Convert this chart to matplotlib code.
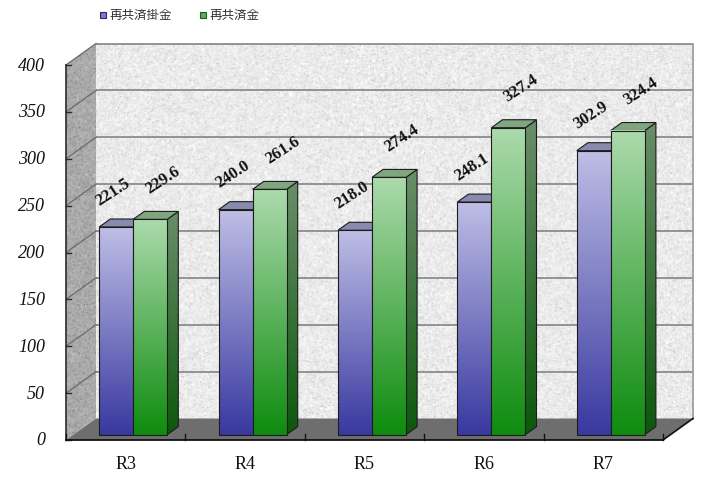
import numpy as np
import matplotlib
matplotlib.use('Agg')
import matplotlib.pyplot as plt
from matplotlib.patches import Polygon, Rectangle

# ---------------- data ----------------
categories = ['R3', 'R4', 'R5', 'R6', 'R7']
series_names = ['再共済掛金', '再共済金']
premiums = [221.5, 240.0, 218.0, 248.1, 302.9]
claims = [229.6, 261.6, 274.4, 327.4, 324.4]
yticks = [0, 50, 100, 150, 200, 250, 300, 350, 400]

# ---------------- figure / layout ----------------
W, H, DPI = 718, 502, 100
fig = plt.figure(figsize=(W / DPI, H / DPI), dpi=DPI)
ax = fig.add_axes([0, 0, 1, 1])
ax.axis('off')

FL, FR = 66, 663      # front plane left / right (px)
FB, FT = 441, 66      # front plane y of 0 / 400 (px from top)
n = len(categories)
ymax = yticks[-1]
sx = (FR - FL) / n
sy = (FB - FT) / ymax
x0 = -0.5 - FL / sx
y0 = -(H - FB) / sy
ax.set_xlim(x0, x0 + W / sx)
ax.set_ylim(y0, y0 + H / sy)

DX, DY = 30 / sx, 21.5 / sy   # full depth of the box in data units


def P(x, v, d):
    return (x + d * DX, v + d * DY)


rng = np.random.default_rng(7)


def granite(h, w, base, amp):
    a = rng.normal(0, 1, (h, w))
    b = (a + np.roll(a, 1, 0) + np.roll(a, 1, 1) + np.roll(a, -1, 0) + np.roll(a, -1, 1)) / 5
    t = base + amp * (0.8 * b + 0.2 * a)
    specks = rng.random((h, w)) < 0.04
    t = np.where(specks, t - 2.2 * amp, t)
    t = np.clip(t, 0, 1)
    return np.dstack([t, t, t])


xl, xr = -0.5, n - 0.5

# back wall
ax.imshow(granite(376, 596, 0.925, 0.05), extent=[xl + DX, xr + DX, DY, ymax + DY],
          origin='upper', interpolation='bilinear', aspect='auto', zorder=1)
# left wall
lw_poly = Polygon([P(xl, 0, 0), P(xl, 0, 1), P(xl, ymax, 1), P(xl, ymax, 0)],
                  closed=True, facecolor='none', edgecolor='none')
ax.add_patch(lw_poly)
im = ax.imshow(granite(400, 32, 0.67, 0.06), extent=[xl, xl + DX, 0, ymax + DY],
               origin='upper', interpolation='bilinear', aspect='auto', zorder=1)
im.set_clip_path(lw_poly)
# floor
ax.add_patch(Polygon([P(xl, 0, 0), P(xr, 0, 0), P(xr, 0, 1), P(xl, 0, 1)], closed=True,
                     facecolor='#6e6e6e', edgecolor='none', zorder=1.5))

# gridlines
for v in yticks[1:]:
    ax.plot([xl + DX, xr + DX], [v + DY, v + DY], color='#8c8c8c', lw=1.3, zorder=2,
            solid_capstyle='butt')
    ax.plot([xl, xl + DX], [v, v + DY], color='#707070', lw=1.0, zorder=2)
# back wall right edge
ax.plot([xr + DX, xr + DX], [DY, ymax + DY], color='#9a9a9a', lw=1.2, zorder=2)

# axis lines and ticks
ax.plot([xl, xl], [0, ymax], color='#2a2a2a', lw=1.2, zorder=3)
for v in yticks:
    ax.plot([xl, xl + 5 / sx], [v, v], color='#2a2a2a', lw=1.0, zorder=3)
    ax.annotate(str(v), xy=(xl, v), xytext=(-21, 0), textcoords='offset pixels',
                ha='right', va='center', fontsize=13, fontstyle='italic',
                family='Liberation Serif', color='#111111')
ax.plot([xl, xr], [0, 0], color='#111111', lw=1.3, zorder=3)
ax.plot([xr, xr + DX], [0, DY], color='#111111', lw=1.2, zorder=3)
for k in range(n + 1):
    ax.plot([xl + k, xl + k], [0, 6 / sy], color='#111111', lw=1.0, zorder=3)
for i, c in enumerate(categories):
    ax.annotate(c, xy=(i, 0), xytext=(0, -15), textcoords='offset pixels',
                ha='center', va='top', fontsize=13, family='Liberation Serif', color='#111111')

# bars
bw = 34 / sx
f0, f1 = 0.25, 0.62
styles = [
    dict(top=(190, 190, 230), bot=(56, 56, 160), stop=(104, 104, 150), sbot=(30, 30, 100),
         cap='#8a8aae'),
    dict(top=(172, 218, 172), bot=(14, 140, 14), stop=(106, 142, 106), sbot=(12, 88, 12),
         cap='#7fa67f'),
]


def grad(ct, cb, N=256):
    t = np.linspace(0, 1, N)[:, None]
    a = np.array(ct) / 255.0
    b = np.array(cb) / 255.0
    g = a[None, :] * (1 - t) + b[None, :] * t
    return np.repeat(g[:, None, :], 2, axis=1)


edge = '#1c1c1c'
for i in range(n):
    for s, vals in enumerate([premiums, claims]):
        h = vals[i]
        st = styles[s]
        xa = i - bw + s * bw
        xb = xa + bw
        z = 5 + i + s * 0.5
        # side face
        side = Polygon([P(xb, 0, f0), P(xb, 0, f1), P(xb, h, f1), P(xb, h, f0)], closed=True,
                       facecolor='none', edgecolor=edge, lw=0.8, zorder=z + 0.2)
        ax.add_patch(side)
        sim = ax.imshow(grad(st['stop'], st['sbot']),
                        extent=[xb + f0 * DX, xb + f1 * DX, f0 * DY, h + f1 * DY],
                        origin='upper', interpolation='bilinear', aspect='auto', zorder=z + 0.1)
        sim.set_clip_path(side)
        # top face
        ax.add_patch(Polygon([P(xa, h, f0), P(xb, h, f0), P(xb, h, f1), P(xa, h, f1)],
                             closed=True, facecolor=st['cap'], edgecolor=edge, lw=0.8,
                             zorder=z + 0.2))
        # front face
        fa, va_ = P(xa, 0, f0)
        fb, vb_ = P(xb, h, f0)
        ax.imshow(grad(st['top'], st['bot']), extent=[fa, fb, va_, vb_], origin='upper',
                  interpolation='bilinear', aspect='auto', zorder=z + 0.3)
        ax.add_patch(Rectangle((fa, va_), fb - fa, vb_ - va_, facecolor='none',
                               edgecolor=edge, lw=0.8, zorder=z + 0.4))
        # label
        off = (-3, 36) if s == 0 else (13, 40)
        ax.annotate(f'{h:.1f}', xy=P((xa + xb) / 2, h, f0), xytext=off,
                    textcoords='offset pixels', ha='center', va='center', rotation=33,
                    fontsize=12, fontweight='bold', family='Liberation Serif',
                    color='#111111', zorder=30)

ax.set_xlim(x0, x0 + W / sx)
ax.set_ylim(y0, y0 + H / sy)

# legend
leg = [((100, 12.5), '#7c7cc4', '#2a2a70', 110, series_names[0]),
       ((200, 12.5), '#58b058', '#1e5a1e', 209, series_names[1])]
for (mx, my), fc, ec, tx, name in leg:
    fig.add_artist(Rectangle((mx / W, 1 - (my + 6) / H), 6 / W, 6 / H, facecolor=fc,
                             edgecolor=ec, lw=0.8, transform=fig.transFigure))
    fig.text(tx / W, 1 - 15.5 / H, name, ha='left', va='center', fontsize=9,
             family=['Noto Sans CJK JP', 'DejaVu Sans'], color='#333333')

fig.savefig('out.png', dpi=DPI)
